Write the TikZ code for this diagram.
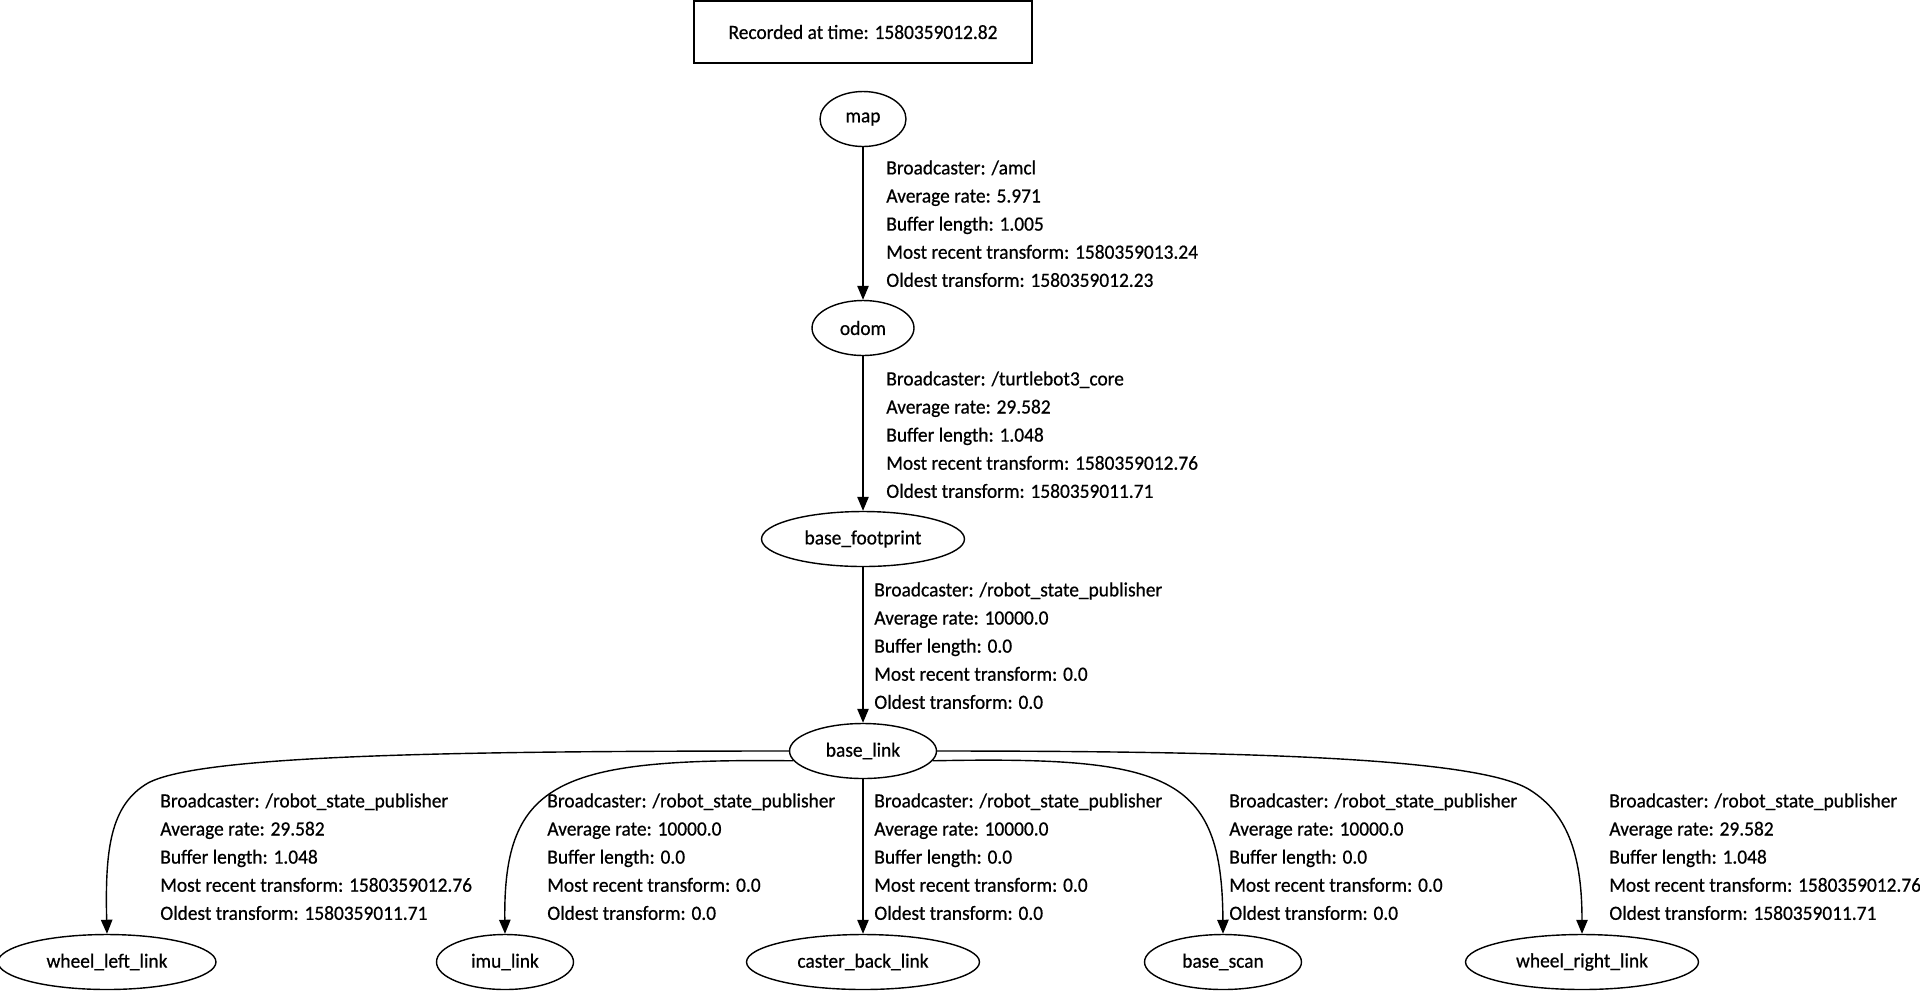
\documentclass[tikz,border=0pt]{standalone}
\usepackage{fontspec}
\setmainfont{Carlito}[FakeStretch=0.96, FakeBold=0.6]
\usetikzlibrary{arrows.meta, positioning, shapes.geometric}

\begin{document}
\begin{tikzpicture}[x=0.02cm, y=-0.02cm,
    font=\fontsize{11.5}{16}\selectfont,
    frame/.style={ellipse, draw, line width=0.8pt, inner sep=0pt, minimum height=1.1cm},
    info/.style={anchor=north west, inner sep=0pt, align=left},
    tf/.style={-{Triangle[length=8pt, width=6.5pt]}, line width=0.8pt}]

    \useasboundingbox (0,0) rectangle (1920,992);

    % 记录时间
    \node[draw, line width=0.8pt, minimum width=6.76cm, minimum height=1.24cm] (rec) at (863,32) {Recorded at time: 1580359012.82};

    % 坐标系
    \node[frame, minimum width=1.72cm] (map) at (863,119) {map};
    \node[frame, minimum width=2.04cm] (odom) at (863,328) {odom};
    \node[frame, minimum width=4.06cm] (bf) at (863,539) {base\_footprint};
    \node[frame, minimum width=2.94cm] (bl) at (863,751) {base\_link};

    \node[frame, minimum width=4.36cm] (wl) at (107,962) {wheel\_left\_link};
    \node[frame, minimum width=2.74cm] (imu) at (505,962) {imu\_link};
    \node[frame, minimum width=4.66cm] (cb) at (863,962) {caster\_back\_link};
    \node[frame, minimum width=3.14cm] (bs) at (1223,962) {base\_scan};
    \node[frame, minimum width=4.66cm] (wr) at (1582,962) {wheel\_right\_link};

    % 变换
    \draw[tf] (map) -- (odom);
    \draw[tf] (odom) -- (bf);
    \draw[tf] (bf) -- (bl);
    \draw[tf] (bl) -- (cb);
    \draw[tf] (bl.west) .. controls (450,751) and (200,755) .. (148,783)
        .. controls (110,805) and (105,850) .. (wl.north);
    \draw[tf] (bl.188) .. controls (560,758) and (503,780) .. (imu.north);
    \draw[tf] (bl.352) .. controls (1170,756) and (1222,775) .. (bs.north);
    \draw[tf] (bl.east) .. controls (1250,751) and (1480,758) .. (1530,790)
        .. controls (1570,815) and (1582,860) .. (wr.north);

    % 广播信息
    \node[info] (tmap) at (886,160) {Broadcaster: /amcl\\Average rate: 5.971\\Buffer length: 1.005\\Most recent transform: 1580359013.24\\Oldest transform: 1580359012.23};
    \node[info] (todom) at (886,371) {Broadcaster: /turtlebot3\_core\\Average rate: 29.582\\Buffer length: 1.048\\Most recent transform: 1580359012.76\\Oldest transform: 1580359011.71};
    \node[info] (tbf) at (874,582) {Broadcaster: /robot\_state\_publisher\\Average rate: 10000.0\\Buffer length: 0.0\\Most recent transform: 0.0\\Oldest transform: 0.0};

    \node[info] (twl) at (160,793) {Broadcaster: /robot\_state\_publisher\\Average rate: 29.582\\Buffer length: 1.048\\Most recent transform: 1580359012.76\\Oldest transform: 1580359011.71};
    \node[info] (timu) at (547,793) {Broadcaster: /robot\_state\_publisher\\Average rate: 10000.0\\Buffer length: 0.0\\Most recent transform: 0.0\\Oldest transform: 0.0};
    \node[info] (tcb) at (874,793) {Broadcaster: /robot\_state\_publisher\\Average rate: 10000.0\\Buffer length: 0.0\\Most recent transform: 0.0\\Oldest transform: 0.0};
    \node[info] (tbs) at (1229,793) {Broadcaster: /robot\_state\_publisher\\Average rate: 10000.0\\Buffer length: 0.0\\Most recent transform: 0.0\\Oldest transform: 0.0};
    \node[info] (twr) at (1609,793) {Broadcaster: /robot\_state\_publisher\\Average rate: 29.582\\Buffer length: 1.048\\Most recent transform: 1580359012.76\\Oldest transform: 1580359011.71};
\end{tikzpicture}
\end{document}
